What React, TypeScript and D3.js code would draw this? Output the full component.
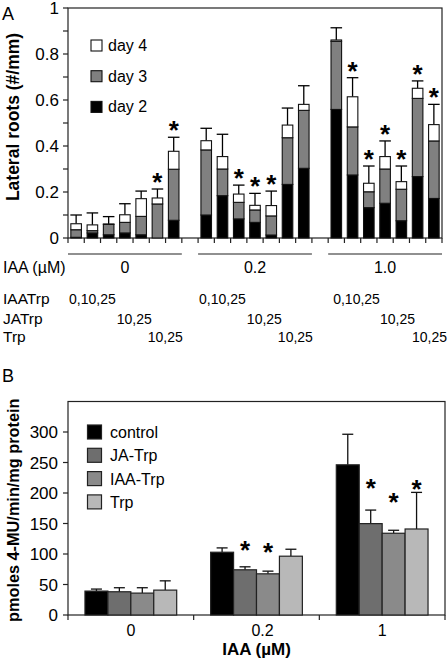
import React from 'react';
import * as d3 from 'd3';

// ---------- Panel A data ----------
const groupsA = ['0', '0.2', '1.0'];
const day2 = [0.003, 0.022, 0.014, 0.022, 0.014, 0.0, 0.077,
  0.100, 0.184, 0.083, 0.068, 0.013, 0.233, 0.303,
  0.559, 0.274, 0.132, 0.151, 0.075, 0.267, 0.172];
const day3 = [0.033, 0.010, 0.045, 0.046, 0.080, 0.148, 0.222,
  0.283, 0.116, 0.072, 0.054, 0.083, 0.203, 0.252,
  0.296, 0.209, 0.069, 0.149, 0.137, 0.340, 0.250];
const day4 = [0.026, 0.025, 0.002, 0.033, 0.077, 0.026, 0.078,
  0.040, 0.054, 0.036, 0.020, 0.045, 0.055, 0.026,
  0.006, 0.131, 0.037, 0.054, 0.033, 0.044, 0.071];
const sdA = [0.038, 0.052, 0.032, 0.048, 0.033, 0.039, 0.061,
  0.054, 0.097, 0.039, 0.052, 0.063, 0.074, 0.081,
  0.053, 0.083, 0.075, 0.068, 0.068, 0.032, 0.088];
const starA = [0, 0, 0, 0, 0, 1, 1,
  0, 0, 1, 1, 1, 0, 0,
  0, 1, 1, 1, 1, 1, 1];
const yTicksA = [0, 0.2, 0.4, 0.6, 0.8, 1];
const yMinorA = [0.1, 0.3, 0.5, 0.7, 0.9];
const legendA = ['day 4', 'day 3', 'day 2'];
const rowLabels = ['IAATrp', 'JATrp', 'Trp'];
const rowValues = ['0,10,25', '10,25', '10,25'];

// ---------- Panel B data ----------
const groupsB = ['0', '0.2', '1'];
const seriesB = ['control', 'JA-Trp', 'IAA-Trp', 'Trp'];
const controlB = [39.2, 102.9, 246.2];
const jaTrpB = [38.1, 74.1, 149.8];
const iaaTrpB = [35.9, 67.5, 134.0];
const trpB = [40.8, 96.4, 141.0];
const controlSd = [3.3, 7.1, 50.1];
const jaTrpSd = [6.6, 4.9, 22.2];
const iaaTrpSd = [8.8, 4.4, 4.9];
const trpSd = [15.2, 11.4, 60.0];
const controlStar = [null, null, null];
const jaTrpStar = [null, 114, 216];
const iaaTrpStar = [null, 112, 193];
const trpStar = [null, null, 214];
const yTicksB = [0, 50, 100, 150, 200, 250, 300];

const FONT = '"Liberation Sans", Arial, sans-serif';
const segColors = ['#000000', '#808080', '#ffffff'];
const seriesColors = ['#000000', '#6e6e6e', '#8a8a8a', '#b8b8b8'];
const AX = '#222';

function Star({ x, y }: { x: number; y: number }) {
  // y = visual centre of asterisk
  return (
    <text x={x} y={y + 14} textAnchor="middle" fontSize={26} fontWeight="bold" fontFamily={FONT} fill="#000">*</text>
  );
}

export default function App() {
  // ---- Panel A scales ----
  const aLeft = 68, aRight = 442, aTop = 8, aBottom = 238;
  const nSlots = 23;
  const slots = d3.range(nSlots);
  const xA = d3.scaleBand<number>().domain(slots).range([aLeft, aRight]).paddingInner(0.35).paddingOuter(0.175);
  const stepA = xA.step();
  const slotLeft = (s: number) => aLeft + s * stepA;
  const yA = d3.scaleLinear().domain([0, 1]).range([aBottom, aTop]);
  const slotOf = (i: number) => Math.floor(i / 7) * 8 + (i % 7);

  const barsA = day2.map((d2, i) => {
    const c1 = d2, c2 = d2 + day3[i], c3 = c2 + day4[i];
    return { i, slot: slotOf(i), segs: [[0, c1], [c1, c2], [c2, c3]], total: c3, err: c3 + sdA[i], star: starA[i] };
  });

  // ---- Panel B scales ----
  const bLeft = 68, bRight = 445, bTop = 401.5, bBottom = 615;
  const xB = d3.scaleBand<string>().domain(groupsB).range([bLeft, bRight]).padding(0);
  const xBi = d3.scaleBand<string>().domain(seriesB).range([0, xB.bandwidth()]).paddingInner(0).paddingOuter(0.74);
  const yB = d3.scaleLinear().domain([0, 350]).range([bBottom, bTop]);
  const valsB = [controlB, jaTrpB, iaaTrpB, trpB];
  const sdsB = [controlSd, jaTrpSd, iaaTrpSd, trpSd];
  const starsB = [controlStar, jaTrpStar, iaaTrpStar, trpStar];

  const barW = xA.bandwidth();
  const capA = barW + 1;

  return (
    <svg width={448} height={666} style={{ position: 'absolute', left: 0, top: 0, background: '#fff' }} fontFamily={FONT}>
      {/* ===== Panel A ===== */}
      <text x={2} y={20} fontSize={18}>A</text>
      <text transform={`translate(19,${(aTop + aBottom) / 2 - 6}) rotate(-90)`} textAnchor="middle" fontSize={17.5} fontWeight="bold">Lateral roots (#/mm)</text>

      {/* frame */}
      <rect x={aLeft} y={yA(1)} width={aRight - aLeft} height={aBottom - yA(1)} fill="none" stroke={AX} strokeWidth={1.2} />
      {yTicksA.map(t => (
        <g key={'ya' + t}>
          <line x1={aLeft - 5} x2={aLeft} y1={yA(t)} y2={yA(t)} stroke={AX} strokeWidth={1.2} />
          <text x={59} y={yA(t) + 6} textAnchor="end" fontSize={17}>{String(t)}</text>
        </g>
      ))}
      {yMinorA.map(t => (
        <line key={'ym' + t} x1={aLeft - 5} x2={aLeft} y1={yA(t)} y2={yA(t)} stroke={AX} strokeWidth={1.2} />
      ))}
      {d3.range(nSlots + 1).map(s => (
        <line key={'xt' + s} x1={slotLeft(s)} x2={slotLeft(s)} y1={aBottom} y2={aBottom + 5} stroke={AX} strokeWidth={1.2} />
      ))}

      {/* bars */}
      {barsA.map(b => {
        const x0 = xA(b.slot)!;
        const cx = x0 + barW / 2;
        return (
          <g key={'ba' + b.i}>
            <line x1={cx} x2={cx} y1={yA(b.total)} y2={yA(b.err)} stroke="#000" strokeWidth={1.3} />
            <line x1={cx - capA / 2} x2={cx + capA / 2} y1={yA(b.err)} y2={yA(b.err)} stroke="#000" strokeWidth={1.3} />
            {b.segs.map((s, k) => (
              s[1] - s[0] > 0.0005 ? (
                <rect key={k} x={x0} y={yA(s[1])} width={barW} height={yA(s[0]) - yA(s[1])} fill={segColors[k]} stroke="#111" strokeWidth={1.1} />
              ) : null
            ))}
            {b.star ? <Star x={cx} y={yA(b.err) - 12} /> : null}
          </g>
        );
      })}

      {/* legend A */}
      {legendA.map((l, k) => (
        <g key={'la' + l} transform={`translate(91,${40 + k * 30.7})`}>
          <rect x={0} y={0} width={11} height={11} fill={segColors[2 - k]} stroke="#111" strokeWidth={1.1} />
          <text x={17} y={11} fontSize={16}>{l}</text>
        </g>
      ))}

      {/* group lines and labels */}
      {groupsA.map((g, gi) => {
        const l = slotLeft(gi * 8), r = slotLeft(gi * 8 + 7);
        return (
          <g key={'ga' + g}>
            <line x1={l} x2={r} y1={254} y2={254} stroke={AX} strokeWidth={1.2} />
            <text x={(l + r) / 2} y={273} textAnchor="middle" fontSize={16}>{g}</text>
            <text x={l + 1 + (gi === 2 ? 4 : 0)} y={304} fontSize={14}>{rowValues[0]}</text>
            <text x={slotLeft(gi * 8 + 3) + (gi === 2 ? 3 : 0)} y={323.5} fontSize={14}>{rowValues[1]}</text>
            <text x={slotLeft(gi * 8 + 7) + 1 + (gi === 2 ? 4 : 0)} y={342} textAnchor="end" fontSize={14}>{rowValues[2]}</text>
          </g>
        );
      })}
      <text x={3} y={273} fontSize={16}>IAA (µM)</text>
      {rowLabels.map((r, k) => (
        <text key={'rl' + r} x={3} y={[304, 323.5, 342][k]} fontSize={15.5}>{r}</text>
      ))}

      {/* ===== Panel B ===== */}
      <text x={2} y={382} fontSize={18}>B</text>
      <text transform={`translate(19,${(bTop + bBottom) / 2 + 2}) rotate(-90)`} textAnchor="middle" fontSize={16.3} fontWeight="bold">pmoles 4-MU/min/mg protein</text>
      <rect x={bLeft} y={bTop} width={bRight - bLeft} height={bBottom - bTop} fill="none" stroke={AX} strokeWidth={1.2} />
      {yTicksB.map(t => (
        <g key={'yb' + t}>
          <line x1={bLeft - 5} x2={bLeft} y1={yB(t)} y2={yB(t)} stroke={AX} strokeWidth={1.2} />
          <text x={58} y={yB(t) + 6} textAnchor="end" fontSize={17}>{String(t)}</text>
        </g>
      ))}
      {[...groupsB.map(g => xB(g)!), bRight].map((x, k) => (
        <line key={'xbt' + k} x1={x} x2={x} y1={bBottom} y2={bBottom + 5} stroke={AX} strokeWidth={1.2} />
      ))}
      {groupsB.map((g, gi) => (
        <g key={'gb' + g}>
          {seriesB.map((s, si) => {
            const x0 = xB(g)! + xBi(s)!;
            const w = xBi.bandwidth();
            const cx = x0 + w / 2;
            const v = valsB[si][gi];
            const e = v + sdsB[si][gi];
            const st = starsB[si][gi];
            return (
              <g key={s}>
                <line x1={cx} x2={cx} y1={yB(v)} y2={yB(e)} stroke="#111" strokeWidth={1.3} />
                <line x1={cx - 5.5} x2={cx + 5.5} y1={yB(e)} y2={yB(e)} stroke="#111" strokeWidth={1.3} />
                <rect x={x0} y={yB(v)} width={w} height={yB(0) - yB(v)} fill={seriesColors[si]} stroke="#222" strokeWidth={1.2} />
                {st != null ? <Star x={cx} y={yB(st)} /> : null}
              </g>
            );
          })}
          <text x={xB(g)! + xB.bandwidth() / 2 + (gi === 1 ? 6 : 0)} y={635.5} textAnchor="middle" fontSize={16}>{g}</text>
        </g>
      ))}
      <text x={(bLeft + bRight) / 2} y={655} textAnchor="middle" fontSize={17} fontWeight="bold">IAA (µM)</text>

      {/* legend B */}
      {seriesB.map((s, k) => (
        <g key={'lb' + s} transform={`translate(87.5,${425 + k * 23.3})`}>
          <rect x={0} y={0} width={14} height={14} fill={seriesColors[k]} stroke="#222" strokeWidth={1.2} />
          <text x={22.5} y={13} fontSize={16}>{s}</text>
        </g>
      ))}
    </svg>
  );
}
